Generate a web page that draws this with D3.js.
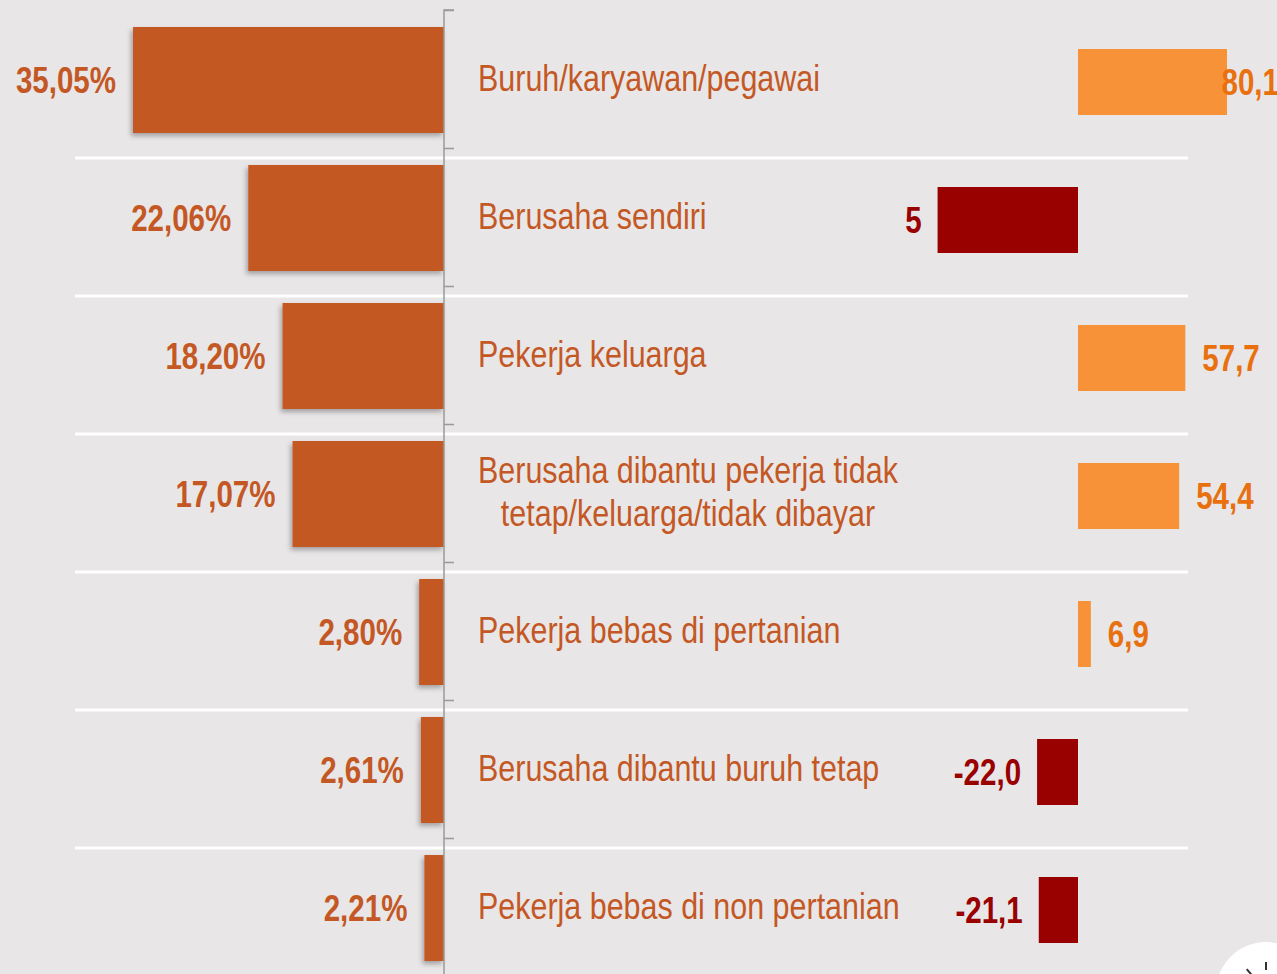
<!DOCTYPE html>
<html lang="id">
<head>
  <meta charset="UTF-8" />
  <title>Status pekerjaan</title>
  <script src="https://d3js.org/d3.v7.min.js"></script>
  <style>
    html, body { margin: 0; padding: 0; background: #e8e6e7; overflow: hidden; }
    svg { display: block; }
    .narrow { font-family: "Liberation Sans Narrow", "Arial Narrow", "Liberation Sans", Arial, sans-serif; }
  </style>
</head>
<body>
  <svg id="chart" width="1277" height="974"></svg>

  <script>
    const categories = [
      ["Buruh/karyawan/pegawai"],
      ["Berusaha sendiri"],
      ["Pekerja keluarga"],
      ["Berusaha dibantu pekerja tidak", "tetap/keluarga/tidak dibayar"],
      ["Pekerja bebas di pertanian"],
      ["Berusaha dibantu buruh tetap"],
      ["Pekerja bebas di non pertanian"]
    ];
    // share of workers (%)
    const shareValues = [35.05, 22.06, 18.20, 17.07, 2.80, 2.61, 2.21];
    const shareLabels = ["35,05%", "22,06%", "18,20%", "17,07%", "2,80%", "2,61%", "2,21%"];
    // change values on the right
    const changeValues = [80.1, -75.5, 57.7, 54.4, 6.9, -22.0, -21.1];
    const changeLabels = ["80,1", "5", "57,7", "54,4", "6,9", "-22,0", "-21,1"];

    const W = 1277, H = 974;
    const topY = 10, step = 138;
    const svg = d3.select('#chart');

    // no narrow font installed, so squeeze the glyphs horizontally
    function condense(sel, k) {
      sel.each(function() {
        const w = this.getComputedTextLength();
        d3.select(this).attr('textLength', w * k).attr('lengthAdjust', 'spacingAndGlyphs');
      });
    }

    const defs = svg.append('defs');
    defs.append('filter').attr('id', 'shadow')
      .attr('x', '-20%').attr('y', '-20%').attr('width', '140%').attr('height', '140%')
      .append('feDropShadow')
      .attr('dx', -2).attr('dy', 3).attr('stdDeviation', 2.5)
      .attr('flood-color', '#000').attr('flood-opacity', 0.3);

    const y = d3.scaleBand().domain(d3.range(categories.length))
      .range([topY, topY + step * categories.length]).paddingInner(0).paddingOuter(0);
    const xL = d3.scaleLinear().domain([0, 40]).range([444, 444 - 354.9]);
    const xR = d3.scaleLinear().domain([-80, 80]).range([1078 - 148.8, 1078 + 148.8]);

    // separators
    svg.append('g').selectAll('line').data(d3.range(1, categories.length)).join('line')
      .attr('x1', 75).attr('x2', 1188)
      .attr('y1', d => y(d) + 10).attr('y2', d => y(d) + 10)
      .attr('stroke', '#ffffff').attr('stroke-width', 3);

    // left bars
    const leftH = 106;
    svg.append('g').attr('filter', 'url(#shadow)')
      .selectAll('rect').data(shareValues).join('rect')
      .attr('x', d => xL(d)).attr('width', d => xL(0) - xL(d))
      .attr('y', (d, i) => y(i) + y.bandwidth() / 2 - leftH / 2 + 1)
      .attr('height', leftH)
      .attr('fill', '#c45824');

    svg.append('g').selectAll('text').data(shareValues).join('text')
      .attr('class', 'narrow')
      .attr('x', d => xL(d) - 17)
      .attr('y', (d, i) => y(i) + y.bandwidth() / 2 + 1)
      .attr('dy', '0.35em')
      .attr('text-anchor', 'end')
      .attr('font-size', 36).attr('font-weight', 'bold')
      .attr('fill', '#c45824')
      .text((d, i) => shareLabels[i])
      .call(condense, 0.82);

    // axis
    const yAxis = d3.scaleLinear().domain([0, categories.length]).range([topY, topY + step * categories.length]);
    const axisG = svg.append('g').attr('transform', 'translate(444,0)')
      .call(d3.axisRight(yAxis).ticks(categories.length).tickSize(10).tickFormat(''));
    axisG.selectAll('path, line').attr('stroke', '#9a9a9a').attr('stroke-width', 1.5);
    axisG.select('.domain').attr('d', `M10,${topY}H0V${H + 5}`);

    // category labels
    const catG = svg.append('g');
    categories.forEach((lines, i) => {
      const t = catG.append('text').attr('class', 'narrow')
        .attr('font-size', 36).attr('fill', '#c45824');
      const cy = y(i) + y.bandwidth() / 2 - 1;
      const lh = 43;
      lines.forEach((ln, j) => {
        t.append('tspan').attr('x', 478)
          .attr('y', cy + (j - (lines.length - 1) / 2) * lh)
          .attr('dy', '0.35em').text(ln);
      });
      const spans = t.selectAll('tspan');
      const widths = spans.nodes().map(s => s.getComputedTextLength() * 0.846);
      spans.call(condense, 0.846);
      if (lines.length > 1) {
        const cx = 478 + d3.max(widths) / 2;
        spans.attr('x', cx).attr('text-anchor', 'middle');
      }
    });

    // right bars
    const rightH = 66;
    const colorR = d => d >= 0 ? '#f79239' : '#990000';
    const labelColorR = d => d >= 0 ? '#e8700f' : '#990000';
    svg.append('g').selectAll('rect').data(changeValues).join('rect')
      .attr('x', d => Math.min(xR(d), xR(0)))
      .attr('width', d => Math.abs(xR(d) - xR(0)))
      .attr('y', (d, i) => y(i) + y.bandwidth() / 2 - rightH / 2 + 3)
      .attr('height', rightH)
      .attr('fill', colorR);

    svg.append('g').selectAll('text').data(changeValues).join('text')
      .attr('class', 'narrow')
      .attr('y', (d, i) => y(i) + y.bandwidth() / 2 + 3)
      .attr('dy', '0.35em')
      .attr('font-size', 36).attr('font-weight', 'bold')
      .attr('fill', labelColorR)
      .text((d, i) => changeLabels[i])
      .call(condense, 0.82)
      .each(function(d) {
        const t = d3.select(this);
        if (d >= 0) {
          const w = +t.attr('textLength');
          const x = Math.min(xR(d) + 17, W + 2 - w);
          t.attr('x', x).attr('text-anchor', 'start');
        } else {
          t.attr('x', xR(d) - 16).attr('text-anchor', 'end');
        }
      });

    // corner button
    const btn = svg.append('g').attr('transform', 'translate(1266,992)');
    btn.append('circle').attr('r', 50).attr('fill', '#ffffff');
    [-40, 0, 40].forEach(a => {
      const r = a * Math.PI / 180;
      btn.append('line')
        .attr('x1', Math.sin(r) * 22).attr('y1', -Math.cos(r) * 22)
        .attr('x2', Math.sin(r) * 30).attr('y2', -Math.cos(r) * 30)
        .attr('stroke', '#333').attr('stroke-width', 2);
    });
  </script>
</body>
</html>
